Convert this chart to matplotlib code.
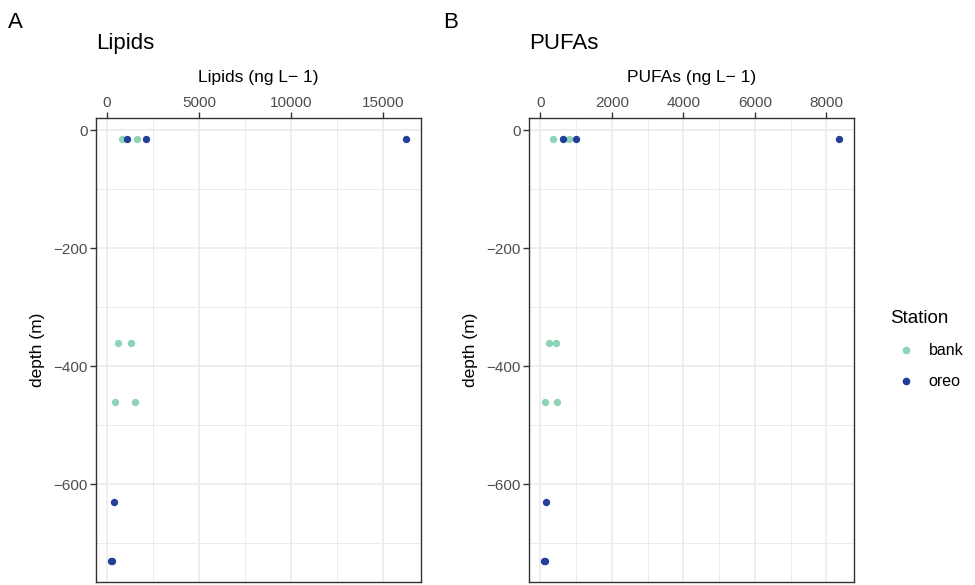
import numpy as np
import matplotlib.pyplot as plt
from matplotlib.ticker import MultipleLocator
from matplotlib.lines import Line2D

plt.rcParams['font.family'] = ['Liberation Sans', 'DejaVu Sans']

# depth of each sample (m)
bank_depth = [-15, -15, -360, -360, -460, -460]
oreo_depth = [-15, -15, -15, -630, -730, -730]

# lipids (ng L-1)
bank_lipids = [830, 1608, 580, 1300, 433, 1517]
oreo_lipids = [1065, 2113, 16235, 379, 200, 250]

# PUFAs (ng L-1)
bank_pufa = [355, 793, 233, 448, 140, 475]
oreo_pufa = [617, 990, 8360, 150, 92, 120]

col_bank = '#8dd3b6'
col_oreo = '#22409a'

W, H = 975, 585
fig = plt.figure(figsize=(W / 100, H / 100), dpi=100)


def px_axes(x0, y0, x1, y1):
    return fig.add_axes([x0 / W, 1 - y1 / H, (x1 - x0) / W, (y1 - y0) / H])


def expand(vals):
    lo, hi = min(vals), max(vals)
    r = hi - lo
    return lo - 0.05 * r, hi + 0.05 * r


def panel(ax, bx, ox, title, xlabel, major, minor):
    ax.scatter(bx, bank_depth, s=28, color=col_bank, zorder=3, linewidths=0)
    ax.scatter(ox, oreo_depth, s=28, color=col_oreo, zorder=3, linewidths=0)
    ax.set_xlim(expand(bx + ox))
    ax.set_ylim(expand(bank_depth + oreo_depth))
    ax.xaxis.tick_top()
    ax.xaxis.set_label_position('top')
    ax.xaxis.set_major_locator(MultipleLocator(major))
    ax.xaxis.set_minor_locator(MultipleLocator(minor))
    ax.yaxis.set_major_locator(MultipleLocator(200))
    ax.yaxis.set_minor_locator(MultipleLocator(100))
    ax.grid(which='major', color='#ebebeb', lw=1.2)
    ax.grid(which='minor', color='#ebebeb', lw=0.7)
    ax.set_axisbelow(True)
    for s in ax.spines.values():
        s.set_color('#333333')
        s.set_linewidth(1.0)
    ax.tick_params(which='major', length=4, width=1.0, color='#333333',
                   labelsize=11, labelcolor='#4d4d4d', pad=2)
    ax.tick_params(which='minor', length=0)
    ax.set_xlabel(xlabel, fontsize=12.5, labelpad=10)
    ax.set_ylabel('depth (m)', fontsize=12.5, labelpad=6)
    ax.set_title(title, fontsize=16, loc='left', pad=50)


ax1 = px_axes(96, 118, 421, 582)
panel(ax1, bank_lipids, oreo_lipids, 'Lipids', 'Lipids (ng L\u2212 1)', 5000, 2500)
ax2 = px_axes(529, 118, 854, 582)
panel(ax2, bank_pufa, oreo_pufa, 'PUFAs', 'PUFAs (ng L\u2212 1)', 2000, 1000)

fig.text(8 / W, 1 - 22 / H, 'A', fontsize=16, va='center', ha='left')
fig.text(443 / W, 1 - 22 / H, 'B', fontsize=16, va='center', ha='left')

handles = [Line2D([], [], marker='o', ls='', color=col_bank, markersize=4.5),
           Line2D([], [], marker='o', ls='', color=col_oreo, markersize=4.5)]
leg = fig.legend(handles, ['bank', 'oreo'], title='Station', loc='upper left',
                 bbox_to_anchor=(876 / W, 1 - 296 / H), frameon=False,
                 fontsize=11.5, title_fontsize=13.5, handletextpad=0.4,
                 labelspacing=1.0)
leg._legend_box.align = 'left'

fig.savefig('out.png', dpi=100)
